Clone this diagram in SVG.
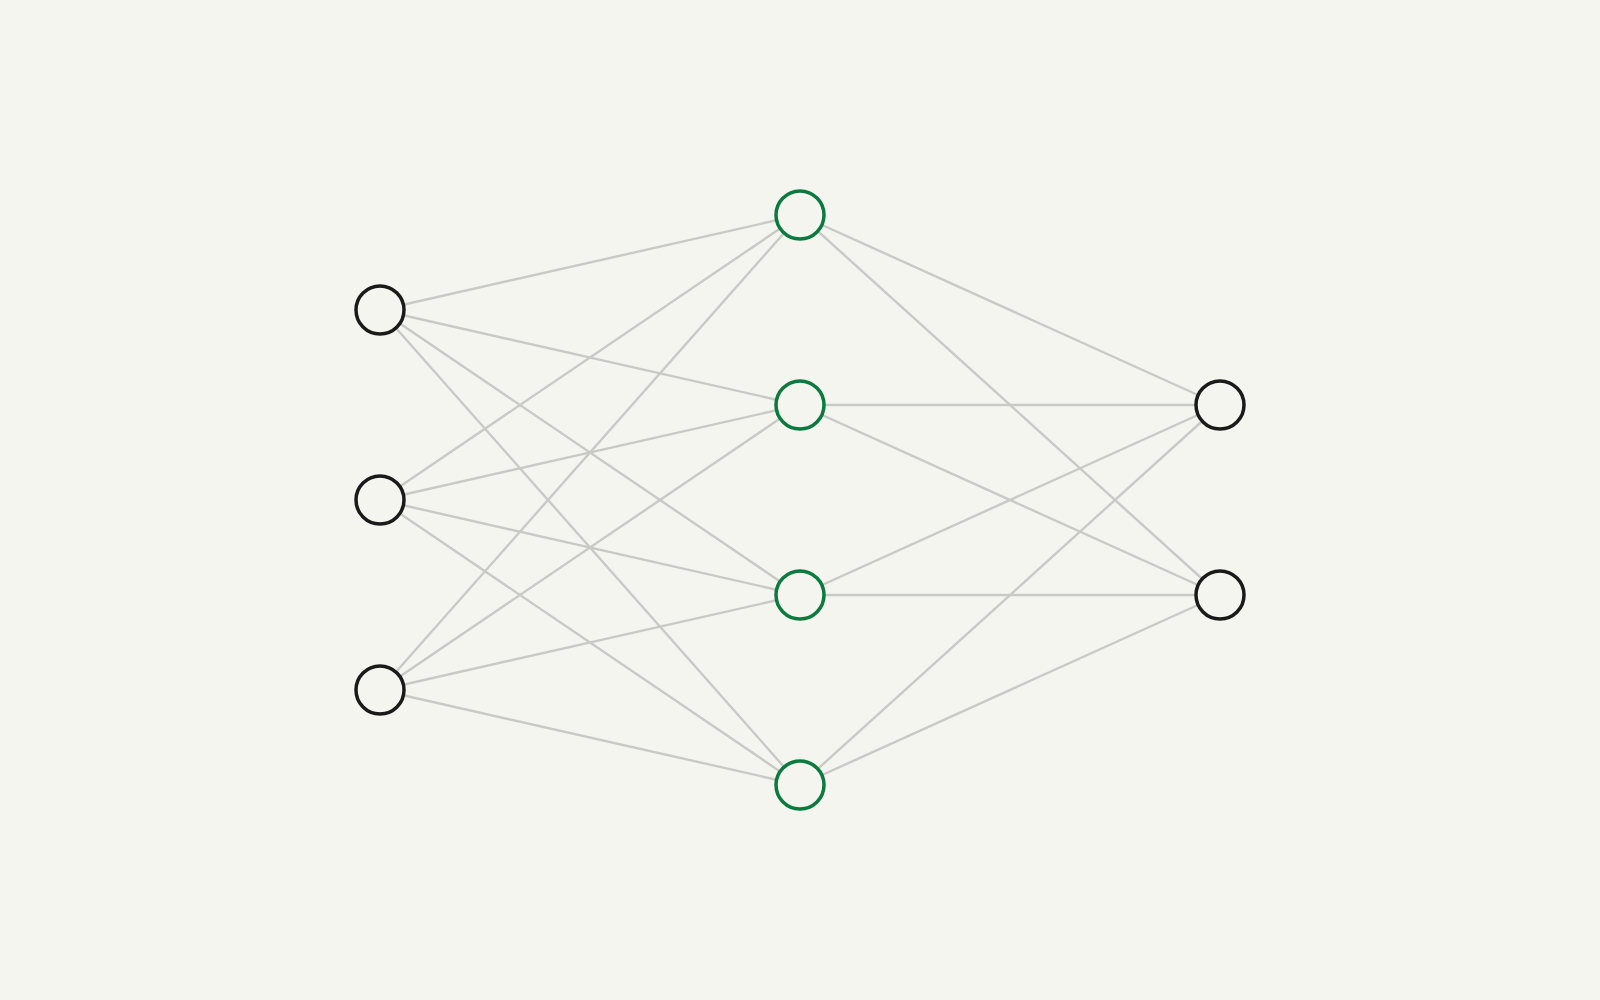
<svg xmlns="http://www.w3.org/2000/svg" width="1600" height="1000" viewBox="0 0 1600 1000">
<style>
.e{stroke:#c9c9c5;stroke-width:2.4;fill:none}
.n{fill:#f5f5f0;stroke-width:3.5}
.io{stroke:#1a1a1a}
.h{stroke:#0b7a3f}
</style>
<rect width="1600" height="1000" fill="#f5f5f0"/>
<g id="connectors" class="e">
<line x1="380" y1="310" x2="800" y2="215"/>
<line x1="380" y1="310" x2="800" y2="405"/>
<line x1="380" y1="310" x2="800" y2="595"/>
<line x1="380" y1="310" x2="800" y2="785"/>
<line x1="380" y1="500" x2="800" y2="215"/>
<line x1="380" y1="500" x2="800" y2="405"/>
<line x1="380" y1="500" x2="800" y2="595"/>
<line x1="380" y1="500" x2="800" y2="785"/>
<line x1="380" y1="690" x2="800" y2="215"/>
<line x1="380" y1="690" x2="800" y2="405"/>
<line x1="380" y1="690" x2="800" y2="595"/>
<line x1="380" y1="690" x2="800" y2="785"/>
<line x1="800" y1="215" x2="1220" y2="405"/>
<line x1="800" y1="215" x2="1220" y2="595"/>
<line x1="800" y1="405" x2="1220" y2="405"/>
<line x1="800" y1="405" x2="1220" y2="595"/>
<line x1="800" y1="595" x2="1220" y2="405"/>
<line x1="800" y1="595" x2="1220" y2="595"/>
<line x1="800" y1="785" x2="1220" y2="405"/>
<line x1="800" y1="785" x2="1220" y2="595"/>
</g>
<g id="in1"><circle class="n io" cx="380" cy="310" r="24"/></g>
<g id="in2"><circle class="n io" cx="380" cy="500" r="24"/></g>
<g id="in3"><circle class="n io" cx="380" cy="690" r="24"/></g>
<g id="h1"><circle class="n h" cx="800" cy="215" r="24"/></g>
<g id="h2"><circle class="n h" cx="800" cy="405" r="24"/></g>
<g id="h3"><circle class="n h" cx="800" cy="595" r="24"/></g>
<g id="h4"><circle class="n h" cx="800" cy="785" r="24"/></g>
<g id="out1"><circle class="n io" cx="1220" cy="405" r="24"/></g>
<g id="out2"><circle class="n io" cx="1220" cy="595" r="24"/></g>
</svg>
